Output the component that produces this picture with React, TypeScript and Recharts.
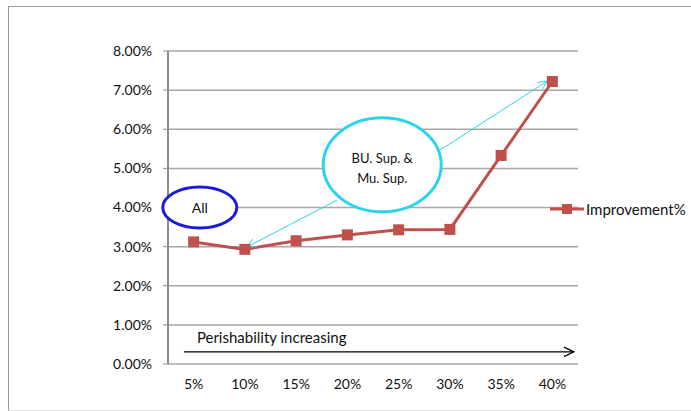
import React from "react";
import {
  LineChart,
  Line,
  XAxis,
  YAxis,
  CartesianGrid,
  ReferenceDot,
  ReferenceLine,
} from "recharts";

const categories = ["5%", "10%", "15%", "20%", "25%", "30%", "35%", "40%"];
const improvement = [0.0312, 0.0293, 0.0315, 0.033, 0.0343, 0.0344, 0.0533, 0.0722];
const yTicks = [0, 0.01, 0.02, 0.03, 0.04, 0.05, 0.06, 0.07, 0.08];
const boundaryTicks = categories.map((_, i) => i).concat(categories.length);
const centerTicks = categories.map((_, i) => i + 0.5);

const data = categories.map((c, i) => ({ pos: i + 0.5, label: c, value: improvement[i] }));

const FONT = "Lato, 'Open Sans', sans-serif";
const RED = "#c0504d";
const CYAN = "#2cd3ec";
const BLUE = "#1c1cd8";
const GRID = "#a8a8a8";

function arrowHead(x1: number, y1: number, x2: number, y2: number, size: number) {
  const a = Math.atan2(y2 - y1, x2 - x1);
  const s = 0.45;
  const p1 = [x2 - size * Math.cos(a - s), y2 - size * Math.sin(a - s)];
  const p2 = [x2 - size * Math.cos(a + s), y2 - size * Math.sin(a + s)];
  return `M${p1[0]},${p1[1]} L${x2},${y2} L${p2[0]},${p2[1]}`;
}

function CalloutArrow(props: any) {
  const { x1, y1, x2, y2 } = props;
  return (
    <g>
      <line x1={x1} y1={y1} x2={x2} y2={y2} stroke={CYAN} strokeWidth={1} />
      <path d={arrowHead(x1, y1, x2, y2, 10)} fill="none" stroke={CYAN} strokeWidth={1} />
    </g>
  );
}

function PerishArrow(props: any) {
  const { x1, y1, x2, y2 } = props;
  return (
    <g>
      <line x1={x1} y1={y1} x2={x2} y2={y2} stroke="#000" strokeWidth={1.2} />
      <path d={arrowHead(x1, y1, x2, y2, 11)} fill="none" stroke="#000" strokeWidth={1.2} />
      <text x={x1 + 13} y={y1 - 9} fontFamily={FONT} fontSize={15} fill="#111">
        Perishability increasing
      </text>
    </g>
  );
}

function AllBubble(props: any) {
  const { cx, cy } = props;
  return (
    <g>
      <ellipse cx={cx} cy={cy} rx={37} ry={20.5} fill="#fff" stroke={BLUE} strokeWidth={3} />
      <text x={cx} y={cy + 5} textAnchor="middle" fontFamily={FONT} fontSize={14} fill="#111">
        All
      </text>
    </g>
  );
}

function SupBubble(props: any) {
  const { cx, cy } = props;
  return (
    <g>
      <ellipse cx={cx} cy={cy} rx={59} ry={47} fill="#fff" stroke={CYAN} strokeWidth={3} />
      <text x={cx} y={cy - 2} textAnchor="middle" fontFamily={FONT} fontSize={13} fill="#111">
        BU. Sup. &amp;
      </text>
      <text x={cx} y={cy + 18} textAnchor="middle" fontFamily={FONT} fontSize={13} fill="#111">
        Mu. Sup.
      </text>
    </g>
  );
}

function SquareDot(props: any) {
  const { cx, cy } = props;
  if (cx == null || cy == null) return null;
  return <rect x={cx - 5.5} y={cy - 5.5} width={11} height={11} fill={RED} />;
}

function LegendBox() {
  return (
    <div
      style={{
        position: "absolute",
        left: 550,
        top: 200,
        display: "flex",
        alignItems: "center",
        fontFamily: FONT,
        fontSize: 15,
        color: "#111",
      }}
    >
      <svg width={34} height={12}>
        <line x1={0} y1={6} x2={34} y2={6} stroke={RED} strokeWidth={3} />
        <rect x={12} y={1} width={10} height={10} fill={RED} />
      </svg>
      <span style={{ marginLeft: 2 }}>Improvement%</span>
    </div>
  );
}

export default function App() {
  return (
    <div style={{ position: "absolute", left: 0, top: 0, width: 691, height: 411, background: "#fff" }}>
      <div
        style={{
          position: "absolute",
          left: 8,
          top: 6,
          width: 700,
          height: 403,
          borderTop: "1.5px solid #9a9a9a",
          borderLeft: "1.5px solid #9a9a9a",
          borderBottom: "1.5px solid #dedede",
        }}
      />
      <div style={{ position: "absolute", left: 0, top: 0 }}>
        <LineChart width={691} height={411} data={data} margin={{ top: 51, right: 113, bottom: 7, left: 0 }}>
          <CartesianGrid vertical={false} stroke={GRID} strokeWidth={1.5} xAxisId="labels" />
          <XAxis
            xAxisId="ticks"
            type="number"
            dataKey="pos"
            domain={[0, categories.length]}
            ticks={boundaryTicks}
            tick={false}
            height={0}
            tickSize={5}
            axisLine={{ stroke: "#8c8c8c", strokeWidth: 2 }}
            tickLine={{ stroke: "#8c8c8c" }}
          />
          <XAxis
            xAxisId="labels"
            type="number"
            dataKey="pos"
            domain={[0, categories.length]}
            ticks={centerTicks}
            tickFormatter={(v: number) => categories[Math.floor(v)]}
            height={40}
            axisLine={false}
            tickLine={false}
            tickSize={0}
            tickMargin={15}
            tick={{ fontFamily: FONT, fontSize: 14, fill: "#111" }}
          />
          <YAxis
            domain={[0, 0.08]}
            ticks={yTicks}
            width={168}
            tickFormatter={(v: number) => (v * 100).toFixed(2) + "%"}
            axisLine={{ stroke: "#8c8c8c", strokeWidth: 2 }}
            tickLine={{ stroke: "#8c8c8c" }}
            tickSize={5}
            tickMargin={11}
            tick={{ fontFamily: FONT, fontSize: 14, fill: "#111" }}
          />
          <ReferenceDot xAxisId="labels" x={0.62} y={0.04} r={0} shape={AllBubble} />
          <ReferenceDot xAxisId="labels" x={4.18} y={0.0509} r={0} shape={SupBubble} />
          <ReferenceLine
            xAxisId="labels"
            segment={[{ x: 0.31, y: 0.0031 }, { x: 7.92, y: 0.0031 }]}
            shape={PerishArrow}
          />
          <Line
            xAxisId="labels"
            type="linear"
            dataKey="value"
            name="Improvement%"
            stroke={RED}
            strokeWidth={3}
            dot={SquareDot}
            activeDot={false}
            isAnimationActive={false}
          />
          <ReferenceLine
            xAxisId="labels"
            segment={[{ x: 3.3, y: 0.0419 }, { x: 1.54, y: 0.0299 }]}
            shape={CalloutArrow}
          />
          <ReferenceLine
            xAxisId="labels"
            segment={[{ x: 5.31, y: 0.0547 }, { x: 7.4, y: 0.0723 }]}
            shape={CalloutArrow}
          />
        </LineChart>
      </div>
      <LegendBox />
    </div>
  );
}
